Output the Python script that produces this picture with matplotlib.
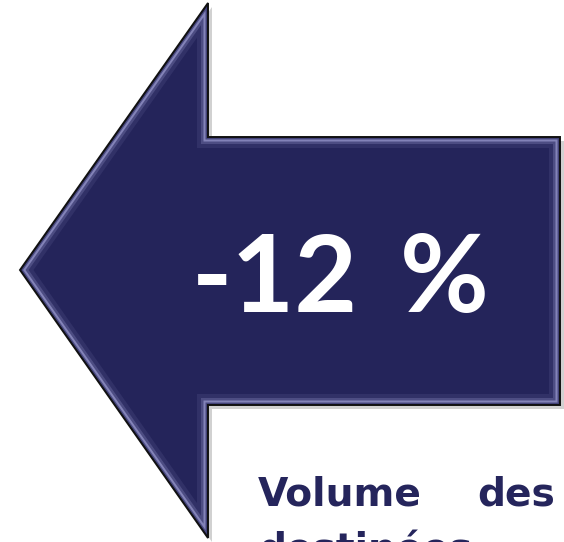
import matplotlib
matplotlib.use("Agg")
import matplotlib.pyplot as plt
from matplotlib.patches import Polygon

# data
change_pct = -12
label_line1 = ["Volume", "des"]
label_line2 = "destinées"

W, H = 564, 542
fig = plt.figure(figsize=(W / 100, H / 100), dpi=100)
ax = fig.add_axes([0, 0, 1, 1])
ax.set_xlim(0, W)
ax.set_ylim(H, 0)
ax.axis("off")

navy = "#24245a"
text_col = "#25255c"
arrow = [(20, 270), (208, 3), (208, 137), (560, 137), (560, 405),
         (208, 405), (208, 538)]

shadow = Polygon([(x + 4, y + 4) for x, y in arrow], closed=True,
                 facecolor="#000000", alpha=0.18, edgecolor="none", zorder=1)
ax.add_patch(shadow)

body = Polygon(arrow, closed=True, facecolor=navy, edgecolor="none", zorder=2)
ax.add_patch(body)

for lw, col, a in [(22, "#3a3a70", 0.6), (14, "#5a5a90", 0.7),
                   (9, "#8a8abf", 0.9), (5, "#4a4a80", 1.0), (2.5, "#2c2c62", 1.0)]:
    p = Polygon(arrow, closed=True, facecolor="none", edgecolor=col,
                linewidth=lw * 0.72, alpha=a, zorder=3, joinstyle="miter")
    ax.add_patch(p)
    p.set_clip_path(body)

outline = Polygon(arrow, closed=True, facecolor="none", edgecolor="#111111",
                  linewidth=1.4, zorder=4, joinstyle="miter")
ax.add_patch(outline)

renderer = fig.canvas.get_renderer()


def fit(t, target_w):
    t.set_fontsize(40)
    w = t.get_window_extent(renderer).width
    t.set_fontsize(40 * target_w / w)


num = ax.text(192, 312, f"{change_pct}", color="white", fontweight="bold",
              family="Lato", ha="left", va="baseline", zorder=5)
fit(num, 166)
pct = ax.text(489, 312, "%", color="white", fontweight="bold",
              family="Lato", ha="right", va="baseline", zorder=5,
              fontsize=num.get_fontsize())

fam = "DejaVu Sans"
t1 = ax.text(258, 505, label_line1[0], color=text_col, fontweight="bold",
             family=fam, ha="left", va="baseline", zorder=5)
fit(t1, 164)
fs = t1.get_fontsize()
ax.text(555, 505, label_line1[1], color=text_col, fontweight="bold",
        family=fam, ha="right", va="baseline", zorder=5, fontsize=fs)
ax.text(258, 561, label_line2, color=text_col, fontweight="bold",
        family=fam, ha="left", va="baseline", zorder=5, fontsize=fs)

fig.savefig("out.png", dpi=100, facecolor="white")
